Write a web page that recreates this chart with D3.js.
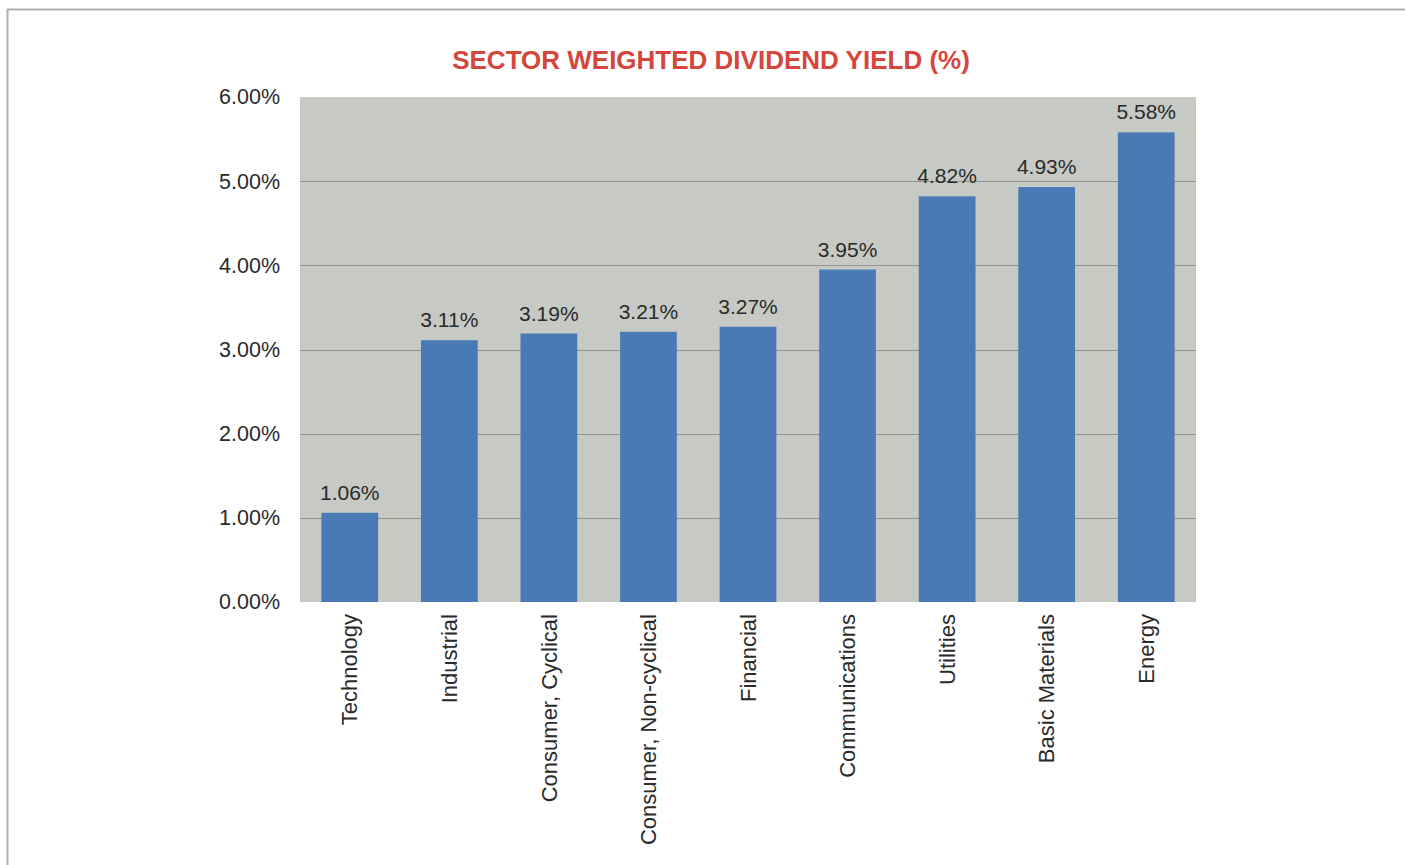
<!DOCTYPE html>
<html>
<head>
<meta charset="utf-8">
<script src="https://cdn.jsdelivr.net/npm/d3@7"></script>
<style>
  body { margin: 0; background: #fff; }
  svg { display: block; font-family: "Liberation Sans", Arial, sans-serif; }
</style>
</head>
<body>
<div id="container"></div>
<script>
// Chart data
const sectors = ["Technology", "Industrial", "Consumer, Cyclical", "Consumer, Non-cyclical",
  "Financial", "Communications", "Utilities", "Basic Materials", "Energy"];
const yields = [1.06, 3.11, 3.19, 3.21, 3.27, 3.95, 4.82, 4.93, 5.58];
const yTicks = [0, 1, 2, 3, 4, 5, 6];

const width = 1405, height = 865;
const plot = { left: 300, right: 1196, top: 97, bottom: 602 };

const svg = d3.select("#container")
    .append("svg")
    .attr("width", width)
    .attr("height", height);

// page frame (top and left edges only)
svg.append("line")
    .attr("x1", 7).attr("x2", width).attr("y1", 9.5).attr("y2", 9.5)
    .attr("stroke", "#a9b1ad").attr("stroke-width", 2);
svg.append("line")
    .attr("x1", 7.5).attr("x2", 7.5).attr("y1", 9).attr("y2", height)
    .attr("stroke", "#a9b1ad").attr("stroke-width", 2);

// scales
const x = d3.scaleBand()
    .domain(sectors)
    .range([plot.left, plot.right])
    .paddingInner(0.43)
    .paddingOuter(0.215);

const y = d3.scaleLinear()
    .domain([0, 6])
    .range([plot.bottom, plot.top]);

// title
svg.append("text")
    .attr("x", 711)
    .attr("y", 69)
    .attr("text-anchor", "middle")
    .attr("font-size", 26)
    .attr("font-weight", "bold")
    .attr("fill", "#d4473d")
    .text("SECTOR WEIGHTED DIVIDEND YIELD (%)");

// plot background
svg.append("rect")
    .attr("x", plot.left)
    .attr("y", plot.top)
    .attr("width", plot.right - plot.left)
    .attr("height", plot.bottom - plot.top)
    .attr("fill", "#c6c9c4");

// gridlines
svg.append("g")
    .selectAll("line")
    .data(yTicks.filter(d => d > 0 && d < 6))
    .enter()
    .append("line")
    .attr("x1", plot.left)
    .attr("x2", plot.right)
    .attr("y1", d => Math.round(y(d)) + 0.5)
    .attr("y2", d => Math.round(y(d)) + 0.5)
    .attr("stroke", "#8e938e")
    .attr("stroke-width", 1);

// y axis labels
const yAxis = svg.append("g")
    .attr("transform", `translate(${plot.left},0)`)
    .call(d3.axisLeft(y).tickValues(yTicks).tickSize(0).tickPadding(20)
        .tickFormat(d => d.toFixed(2) + "%"));
yAxis.select(".domain").remove();
yAxis.selectAll("text")
    .attr("font-size", 21.5)
    .attr("font-family", "Liberation Sans, Arial, sans-serif")
    .attr("fill", "#2a2a2a");

// bars
svg.append("g")
    .selectAll("rect")
    .data(sectors)
    .enter()
    .append("rect")
    .attr("x", d => x(d))
    .attr("width", x.bandwidth())
    .attr("y", (d, i) => y(yields[i]))
    .attr("height", (d, i) => y(0) - y(yields[i]))
    .attr("fill", "#4a7ab5");

// value labels
svg.append("g")
    .attr("text-anchor", "middle")
    .attr("font-size", 21)
    .attr("fill", "#2a2a2a")
    .selectAll("text")
    .data(sectors)
    .enter()
    .append("text")
    .attr("x", d => x(d) + x.bandwidth() / 2)
    .attr("y", (d, i) => y(yields[i]) - 13)
    .text((d, i) => yields[i].toFixed(2) + "%");

// x axis labels (rotated)
const xAxis = svg.append("g")
    .attr("transform", `translate(0,${plot.bottom})`)
    .call(d3.axisBottom(x).tickSize(0).tickPadding(0));
xAxis.select(".domain").remove();
xAxis.selectAll("text")
    .attr("font-size", 22)
    .attr("font-family", "Liberation Sans, Arial, sans-serif")
    .attr("fill", "#2a2a2a")
    .attr("text-anchor", "end")
    .attr("transform", "rotate(-90)")
    .attr("x", -12)
    .attr("y", 0)
    .attr("dy", "0.35em");
</script>
</body>
</html>
